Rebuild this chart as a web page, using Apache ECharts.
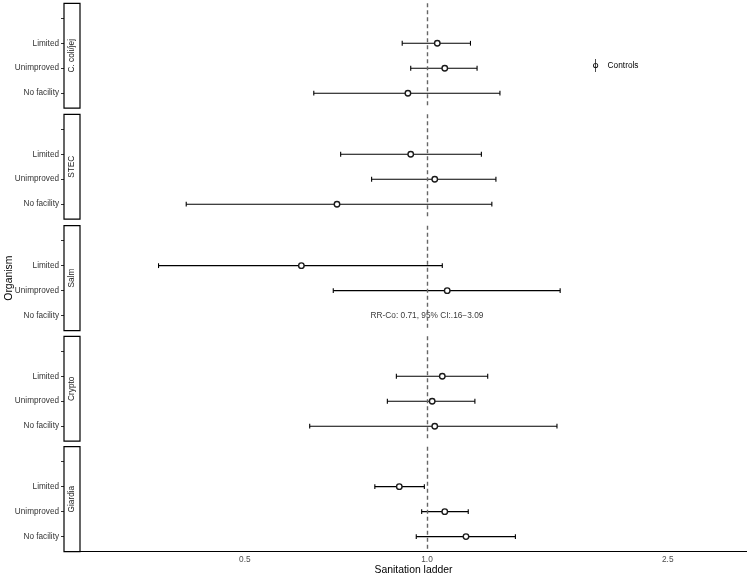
<!DOCTYPE html>
<html><head><meta charset="utf-8">
<script src="https://cdn.jsdelivr.net/npm/echarts@6/dist/echarts.min.js"></script>
<style>html,body{margin:0;padding:0;background:#fff}#chart{width:747px;height:579px}</style>
</head><body><div id="chart"></div>
<script>
// ---- data ----
const organisms = ["C. coli/jej", "STEC", "Salm", "Crypto", "Giardia"];
const levels = ["", "Limited", "Unimproved", "No facility"];
// order within each organism: Limited, Unimproved, No facility
const estimates = [
  [1.04, 1.07, 0.93],
  [0.94, 1.03, 0.71],
  [0.62, 1.08, null],
  [1.06, 1.02, 1.03],
  [0.90, 1.07, 1.16]
];
const lowerCI = [
  [0.91, 0.94, 0.65],
  [0.72, 0.81, 0.40],
  [0.36, 0.70, null],
  [0.89, 0.86, 0.64],
  [0.82, 0.98, 0.96]
];
const upperCI = [
  [1.18, 1.21, 1.32],
  [1.23, 1.30, 1.28],
  [1.06, 1.66, null],
  [1.26, 1.20, 1.64],
  [0.99, 1.17, 1.40]
];
const xTickValues = [0.5, 1.0, 2.5];
const xLimits = [0.267, 3.38];
const refValue = 1.0;
const annotationText = "RR-Co: 0.71, 95% CI:.16\u22123.09";
const annotationPanel = 2;
const annotationLevel = 3;

// ---- layout ----
const FONT = '"Liberation Sans", Arial, Helvetica, sans-serif';
const panelTop = [3.3, 114.3, 225.7, 336.3, 446.7];
const panelH = 104.9;
const plotLeft = 80, stripW = 16;

const grids = [], xAxes = [], yAxes = [], series = [], graphics = [];
const lvlIdx = [0, 1, 2, 3];

organisms.forEach((org, i) => {
  const isBottom = i === organisms.length - 1;
  grids.push({ left: plotLeft, right: 0, top: panelTop[i], height: panelH, outerBoundsMode: 'none', containLabel: false });
  xAxes.push({
    type: 'value', gridIndex: i,
    min: Math.log(xLimits[0]), max: Math.log(xLimits[1]),
    axisLine: { show: isBottom, onZero: false, lineStyle: { color: '#000', width: 1.1 } },
    axisTick: { show: false }, splitLine: { show: false },
    axisLabel: {
      show: isBottom, customValues: xTickValues.map(v => Math.log(v)),
      formatter: v => Math.exp(v).toFixed(1),
      color: '#4d4d4d', fontSize: 8.3, margin: 4, fontFamily: FONT
    },
    name: isBottom ? 'Sanitation ladder' : '', nameLocation: 'middle', nameGap: 14,
    nameMoveOverlap: false,
    nameTextStyle: { fontSize: 10.4, color: '#000', fontFamily: FONT }
  });
  yAxes.push({
    type: 'value', gridIndex: i, inverse: true, min: -0.6, max: 3.6, offset: stripW,
    axisLine: { show: false, onZero: false }, splitLine: { show: false },
    axisTick: { show: true, customValues: lvlIdx, length: 3, lineStyle: { color: '#333', width: 1 } },
    axisLabel: {
      customValues: lvlIdx, formatter: v => levels[Math.round(v)],
      color: '#333', fontSize: 8.2, margin: 5, fontFamily: FONT
    },
    name: i === 2 ? 'Organism' : '', nameLocation: 'middle', nameGap: 50,
    nameMoveOverlap: false,
    nameTextStyle: { fontSize: 10.4, color: '#000', fontFamily: FONT }
  });

  const ciData = [], ptData = [];
  estimates[i].forEach((e, j) => {
    if (e == null) return;
    ciData.push([Math.log(lowerCI[i][j]), Math.log(upperCI[i][j]), j + 1]);
    ptData.push([Math.log(e), j + 1]);
  });

  series.push({
    type: 'custom', name: '95% CI', xAxisIndex: i, yAxisIndex: i, silent: true, z: 2,
    data: ciData, encode: { x: [0, 1], y: 2 },
    renderItem: (params, api) => {
      const y = api.value(2);
      const a = api.coord([api.value(0), y]);
      const b = api.coord([api.value(1), y]);
      const c = 2.4;
      const st = { stroke: '#000', lineWidth: 1.1 };
      return { type: 'group', children: [
        { type: 'line', shape: { x1: a[0], y1: a[1], x2: b[0], y2: b[1] }, style: st },
        { type: 'line', shape: { x1: a[0], y1: a[1] - c, x2: a[0], y2: a[1] + c }, style: st },
        { type: 'line', shape: { x1: b[0], y1: b[1] - c, x2: b[0], y2: b[1] + c }, style: st }
      ]};
    }
  });
  series.push({
    type: 'scatter', name: 'Controls', xAxisIndex: i, yAxisIndex: i, z: 3,
    data: ptData, symbol: 'circle', symbolSize: 5.5,
    itemStyle: { color: '#fff', borderColor: '#1a1a1a', borderWidth: 1.4, opacity: 1 },
    markLine: {
      silent: true, symbol: 'none', label: { show: false }, animation: false,
      lineStyle: { color: '#666', type: [4, 3], width: 1.4 },
      data: [{ xAxis: Math.log(refValue) }]
    }
  });
  if (i === annotationPanel) {
    series.push({
      type: 'scatter', name: 'annotation', xAxisIndex: i, yAxisIndex: i, silent: true,
      symbolSize: 0, data: [[Math.log(refValue), annotationLevel]],
      label: { show: true, position: 'inside', formatter: annotationText,
        fontSize: 8.3, color: '#000', fontFamily: FONT }
    });
  }

  graphics.push({ type: 'rect', shape: { x: plotLeft - stripW, y: panelTop[i], width: stripW, height: panelH },
    style: { fill: '#fff', stroke: '#000', lineWidth: 1.2 }, z: 10 });
  graphics.push({ type: 'text', x: plotLeft - stripW / 2, y: panelTop[i] + panelH / 2, rotation: Math.PI / 2,
    style: { text: org, align: 'center', verticalAlign: 'middle', fontSize: 8.3, fill: '#1a1a1a', fontFamily: FONT }, z: 11 });
});

const chart = echarts.init(document.getElementById('chart'), null, { renderer: 'canvas' });
chart.setOption({
  animation: false,
  backgroundColor: '#fff',
  grid: grids, xAxis: xAxes, yAxis: yAxes, series: series,
  graphic: { elements: graphics },
  legend: {
    data: ['Controls'], left: 588, top: 54, itemWidth: 14, itemHeight: 13, selectedMode: false,
    icon: 'path://M4.4,0 L5.6,0 L5.6,20 L4.4,20 Z M5,6 A4,4 0 1,1 5,14 A4,4 0 1,1 5,6 Z M5,7.4 A2.6,2.6 0 1,0 5,12.6 A2.6,2.6 0 1,0 5,7.4 Z',
    itemStyle: { color: '#1a1a1a', borderWidth: 0 },
    textStyle: { fontSize: 8.3, color: '#000', fontFamily: FONT }
  }
});
</script></body></html>
